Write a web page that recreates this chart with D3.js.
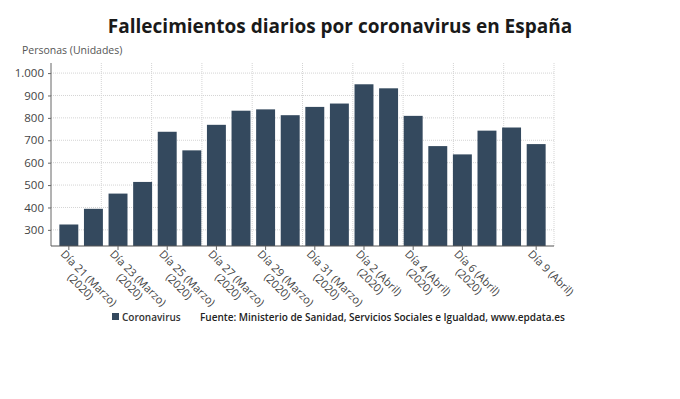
<!DOCTYPE html>
<html><head><meta charset="utf-8">
<script src="https://cdn.jsdelivr.net/npm/d3@7"></script>
<style>
body{margin:0;background:#fff;}
text{font-family:"Open Sans",sans-serif;}
</style></head>
<body><svg id="c" width="680" height="399"></svg>
<script>
const days = ["21 (Marzo)","22 (Marzo)","23 (Marzo)","24 (Marzo)","25 (Marzo)","26 (Marzo)","27 (Marzo)","28 (Marzo)","29 (Marzo)","30 (Marzo)","31 (Marzo)","1 (Abril)","2 (Abril)","3 (Abril)","4 (Abril)","5 (Abril)","6 (Abril)","7 (Abril)","8 (Abril)","9 (Abril)"];
const deaths = [324,394,462,514,738,655,769,832,838,812,849,864,950,932,809,674,637,743,757,683];
const labeledIdx = [0,2,4,6,8,10,12,14,16,19];
const yTicks = [300,400,500,600,700,800,900,1000];
const title = "Fallecimientos diarios por coronavirus en España";
const yTitle = "Personas (Unidades)";
const seriesName = "Coronavirus";
const source = "Fuente: Ministerio de Sanidad, Servicios Sociales e Igualdad, www.epdata.es";

const svg = d3.select("#c");
const L = 51, R = 554, T = 63, B = 246;
const x = d3.scaleBand().domain(d3.range(days.length)).range([L, R]).paddingInner(0.23).paddingOuter(0.34);
const y = d3.scaleLinear().domain([228, 1045]).range([B, T]);
const gx = d3.scaleLinear().domain([0, 10]).range([L, R]);

// grid
svg.append("g").selectAll("line").data(yTicks).join("line")
  .attr("x1", L).attr("x2", R).attr("y1", d => y(d)).attr("y2", d => y(d))
  .attr("stroke", "#d4d4d4").attr("stroke-dasharray", "1,1");
svg.append("g").selectAll("line").data(d3.range(1, 11)).join("line")
  .attr("x1", d => gx(d)).attr("x2", d => gx(d)).attr("y1", T).attr("y2", B)
  .attr("stroke", "#d4d4d4").attr("stroke-dasharray", "1,1");

// bars
svg.append("g").selectAll("rect").data(deaths).join("rect")
  .attr("x", (d, i) => x(i)).attr("width", x.bandwidth())
  .attr("y", d => y(d)).attr("height", d => B - y(d))
  .attr("fill", "#34495e");

// y axis
const yAxis = svg.append("g").attr("transform", `translate(${L},0)`)
  .call(d3.axisLeft(y).tickValues(yTicks).tickSize(3).tickPadding(4)
    .tickFormat(d => d3.format(",")(d).replace(",", ".")));
yAxis.select(".domain").attr("stroke", "#666").attr("d", `M-0,${T}V${B}`);
yAxis.selectAll(".tick line").attr("stroke", "#666");
yAxis.selectAll(".tick text").attr("fill", "#444").attr("font-size", 11.5);

// x axis
svg.append("line").attr("x1", L).attr("x2", R).attr("y1", B).attr("y2", B).attr("stroke", "#555").attr("stroke-width", 1.2);
const xl = svg.append("g");
labeledIdx.forEach(i => {
  const cx = x(i) + x.bandwidth() / 2;
  xl.append("line").attr("x1", cx).attr("x2", cx).attr("y1", B).attr("y2", B + 4).attr("stroke", "#666");
  const g = xl.append("g").attr("transform", `translate(${cx - 3},${B + 3}) rotate(45)`);
  const t = g.append("text").attr("font-size", 11).attr("fill", "#444").attr("text-anchor", "middle");
  const t1 = t.append("tspan").text("Día " + days[i]).attr("x", 0).attr("dy", "0.75em");
  const w = t1.node().getComputedTextLength();
  t1.attr("x", w / 2);
  if (i !== days.length - 1) {
    t.append("tspan").text("(2020)").attr("x", w / 2).attr("dy", "1.05em");
  }
});

// titles
svg.append("text").attr("x", 340).attr("y", 33).attr("text-anchor", "middle")
  .attr("font-size", 19).attr("font-weight", 700).attr("fill", "#1a1a1a").text(title);
svg.append("text").attr("x", 22).attr("y", 54).attr("font-size", 10.5).attr("fill", "#555").text(yTitle);

// legend
svg.append("rect").attr("x", 112).attr("y", 313).attr("width", 7).attr("height", 7).attr("fill", "#34495e");
svg.append("text").attr("x", 122).attr("y", 320.5).attr("font-size", 10).attr("font-weight", 600).attr("fill", "#333").text(seriesName);
svg.append("text").attr("x", 200).attr("y", 320.5).attr("font-size", 10).attr("font-weight", 600).attr("fill", "#222").text(source);
</script></body></html>
